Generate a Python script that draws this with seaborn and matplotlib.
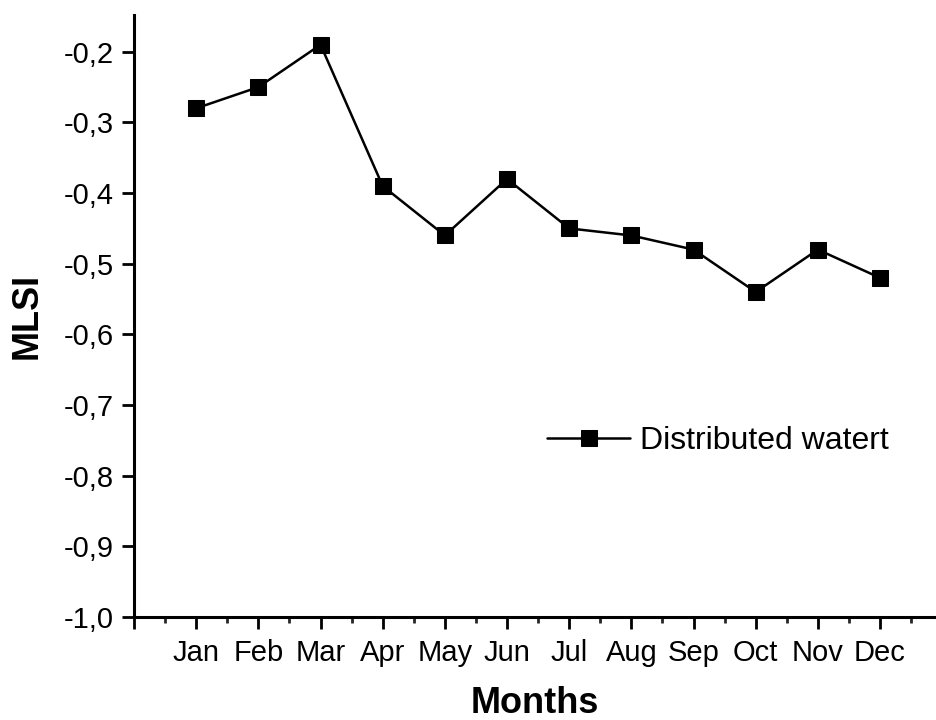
import matplotlib
matplotlib.use("Agg")
import matplotlib.pyplot as plt
import seaborn as sns
import pandas as pd
from matplotlib.ticker import FixedLocator, FixedFormatter, MultipleLocator

months = ["Jan", "Feb", "Mar", "Apr", "May", "Jun",
          "Jul", "Aug", "Sep", "Oct", "Nov", "Dec"]
mlsi = [-0.28, -0.25, -0.19, -0.39, -0.46, -0.38,
        -0.45, -0.46, -0.48, -0.54, -0.48, -0.52]
series_name = "Distributed watert"
y_ticks = [-1.0, -0.9, -0.8, -0.7, -0.6, -0.5, -0.4, -0.3, -0.2]
y_tick_labels = ["-1,0", "-0,9", "-0,8", "-0,7", "-0,6", "-0,5", "-0,4", "-0,3", "-0,2"]

sns.set_style("ticks")
plt.rcParams["font.family"] = ["Liberation Sans", "DejaVu Sans"]
plt.rcParams["text.color"] = "black"
plt.rcParams["axes.labelcolor"] = "black"

df = pd.DataFrame({"pos": range(1, len(months) + 1), "MLSI": mlsi,
                   "series": series_name})

fig = plt.figure(figsize=(9.36, 7.2), dpi=100)
ax = fig.add_axes([0.1432, 0.1431, 0.8568, 0.836])

sns.lineplot(data=df, x="pos", y="MLSI", hue="series", palette=["black"],
             marker="s", markersize=12, markeredgecolor="black",
             linewidth=1.8, ax=ax)

ax.set_xlim(0, 12.9)
ax.set_ylim(-1.0, -0.148)

ax.xaxis.set_major_locator(FixedLocator(range(0, 13)))
ax.xaxis.set_major_formatter(FixedFormatter([""] + months))
ax.xaxis.set_minor_locator(MultipleLocator(0.5))
ax.yaxis.set_major_locator(FixedLocator(y_ticks))
ax.yaxis.set_major_formatter(FixedFormatter(y_tick_labels))

for side in ["top", "right"]:
    ax.spines[side].set_visible(False)
for side in ["left", "bottom"]:
    ax.spines[side].set_linewidth(2.2)
    ax.spines[side].set_color("black")

ax.tick_params(axis="both", which="major", direction="out", length=8.5,
               width=2.0, labelsize=21, colors="black")
ax.tick_params(axis="x", which="major", pad=7.5)
ax.tick_params(axis="y", which="major", pad=6)
ax.tick_params(axis="x", which="minor", direction="out", length=4, width=2.0)
ax.tick_params(axis="y", which="minor", length=0)

ax.set_xlabel("Months", fontsize=26, fontweight="bold", labelpad=13.5)
ax.set_ylabel("MLSI", fontsize=26, fontweight="bold", labelpad=14)

leg = ax.legend(loc="center left", bbox_to_anchor=(0.515, 0.292),
                frameon=False, fontsize=23, handlelength=2.6,
                handletextpad=0.31, borderpad=0, borderaxespad=0)

fig.savefig("out.png", dpi=100, facecolor="white")
